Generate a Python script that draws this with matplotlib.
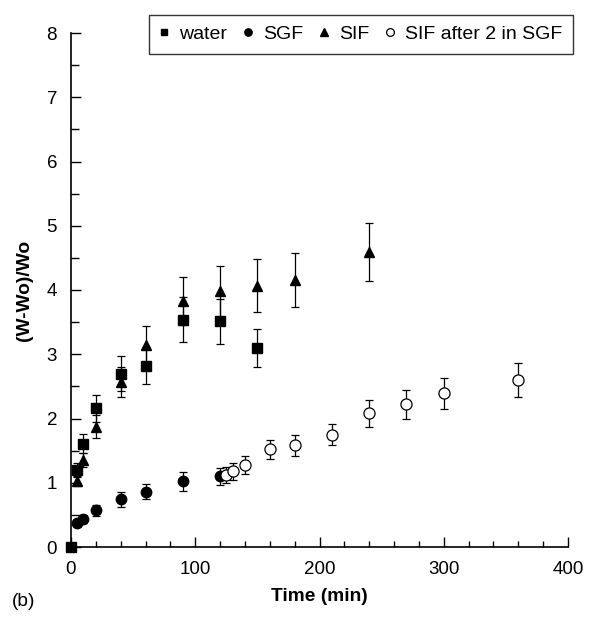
import matplotlib
matplotlib.use("Agg")
import matplotlib.pyplot as plt
from matplotlib.ticker import MultipleLocator

plt.rcParams['font.family'] = ['Liberation Sans', 'DejaVu Sans']

# swelling data
water_t = [0, 5, 10, 20, 40, 60, 90, 120, 150]
water_y = [0, 1.20, 1.61, 2.16, 2.70, 2.82, 3.54, 3.51, 3.10]
water_e = [0, 0.10, 0.15, 0.21, 0.27, 0.29, 0.35, 0.35, 0.30]

sgf_t = [5, 10, 20, 40, 60, 90, 120]
sgf_y = [0.37, 0.44, 0.57, 0.74, 0.86, 1.02, 1.10]
sgf_e = [0.05, 0.06, 0.08, 0.11, 0.12, 0.15, 0.13]

sif_t = [5, 10, 20, 40, 60, 90, 120, 150, 180, 240]
sif_y = [1.02, 1.35, 1.87, 2.57, 3.14, 3.83, 3.98, 4.07, 4.16, 4.59]
sif_e = [0.07, 0.11, 0.18, 0.23, 0.30, 0.38, 0.40, 0.41, 0.42, 0.45]

after_t = [125, 130, 140, 160, 180, 210, 240, 270, 300, 360]
after_y = [1.12, 1.18, 1.27, 1.52, 1.58, 1.75, 2.08, 2.22, 2.39, 2.60]
after_e = [0.12, 0.13, 0.14, 0.15, 0.16, 0.17, 0.21, 0.22, 0.24, 0.27]

fig = plt.figure(figsize=(5.94, 6.18), dpi=100)
ax = fig.add_axes([71/594, 1-547/618, (568-71)/594, (547-33)/618])

eb = dict(color='black', ecolor='black', capsize=3, elinewidth=0.9,
          capthick=0.9, linestyle='none', clip_on=False)
ax.errorbar(water_t, water_y, yerr=water_e, marker='s', ms=7, label='water', **eb)
ax.errorbar(sgf_t, sgf_y, yerr=sgf_e, marker='o', ms=7.5, label='SGF', **eb)
ax.errorbar(sif_t, sif_y, yerr=sif_e, marker='^', ms=7.5, label='SIF', **eb)
ax.errorbar(after_t, after_y, yerr=after_e, marker='o', ms=8, mfc='white',
            mew=0.9, label='SIF after 2 in SGF', **eb)

ax.set_xlim(0, 400)
ax.set_ylim(0, 8)
ax.xaxis.set_major_locator(MultipleLocator(100))
ax.xaxis.set_minor_locator(MultipleLocator(20))
ax.yaxis.set_major_locator(MultipleLocator(1))
ax.yaxis.set_minor_locator(MultipleLocator(0.5))
ax.tick_params(which='both', direction='in', labelsize=13.5, width=1)
ax.tick_params(which='major', length=7, pad=10)
ax.tick_params(which='minor', length=4)
ax.tick_params(axis='y', which='minor', length=6)
ax.spines['top'].set_visible(False)
ax.spines['right'].set_visible(False)
for s in ['left', 'bottom']:
    ax.spines[s].set_linewidth(1.2)

ax.set_xlabel('Time (min)', fontsize=13.8, fontweight='bold', labelpad=7)
ax.set_ylabel('(W-Wo)/Wo', fontsize=13.8, fontweight='bold', labelpad=10)
fig.text(12/594, 1-602/618, '(b)', fontsize=13.8, va='center')

handles, labels = ax.get_legend_handles_labels()
handles = [h[0] for h in handles]
leg = fig.legend(handles, labels, ncol=4, loc='upper right',
                 bbox_to_anchor=(573/594, 1-15/618), fontsize=14,
                 frameon=True, fancybox=False, edgecolor='black',
                 handlelength=0.5, handletextpad=0.5, columnspacing=0.85,
                 borderpad=0.55, borderaxespad=0, markerscale=0.7)
leg.get_frame().set_linewidth(1)

fig.savefig('out.png', dpi=100)
